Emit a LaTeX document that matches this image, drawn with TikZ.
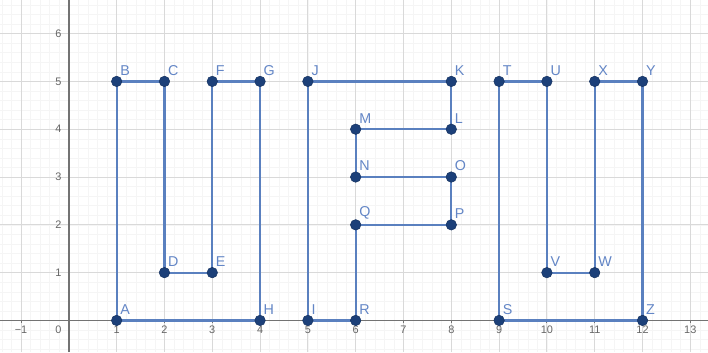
\documentclass[tikz,border=0pt]{standalone}
\usepackage{fontspec}
\setmainfont{Liberation Sans}
\usetikzlibrary{calc}
\begin{document}
\begin{tikzpicture}[x=1cm,y=1cm,
  minorgrid/.style={draw=black!4,line width=0.3pt},
  majorgrid/.style={draw=black!15,line width=0.5pt},
  axisline/.style={draw=black!55,line width=0.9pt},
  ticklbl/.style={font=\fontsize{6.5}{7}\selectfont,text=black!60,inner sep=1pt},
  poly/.style={draw=polyblue,line width=1.3pt,line join=round},
  pt/.style={circle,fill=dotblue,draw=dotblue!80!black,line width=0.3pt,inner sep=0pt,minimum size=2.2mm},
  ptlbl/.style={font=\fontsize{8.5}{9}\selectfont,text=lblblue,inner sep=0pt,anchor=south west}
]
\definecolor{polyblue}{HTML}{5A80BF}
\definecolor{dotblue}{HTML}{1C4079}
\definecolor{lblblue}{HTML}{6386C6}
\useasboundingbox (-1.44,-0.66) rectangle (13.37,6.703);
\fill[white] (-1.44,-0.66) rectangle (13.37,6.703);
% grid
\draw[minorgrid,step=0.2] (-1.44,-0.66) grid (13.37,6.703);
\draw[majorgrid,step=1] (-1.44,-0.66) grid (13.37,6.703);
% axes
\draw[axisline] (-1.44,0) -- (13.37,0);
\draw[axisline] (0,-0.66) -- (0,6.703);
% axis labels
\node[ticklbl] (xlm1) at (-1,-0.19) {−1};
\foreach \i in {1,2,...,13} \node[ticklbl] (xl\i) at (\i,-0.19) {\i};
\node[ticklbl] (xl0) at (-0.22,-0.19) {0};
\foreach \j in {1,...,6} \node[ticklbl] (yl\j) at (-0.22,\j) {\j};
\foreach \i in {-1,1,2,...,13} \draw[axisline,line width=0.5pt] (\i,0) -- (\i,-0.06);
% points
\coordinate (A) at (1,0); \coordinate (B) at (1,5); \coordinate (C) at (2,5);
\coordinate (D) at (2,1); \coordinate (E) at (3,1); \coordinate (F) at (3,5);
\coordinate (G) at (4,5); \coordinate (H) at (4,0);
\coordinate (I) at (5,0); \coordinate (J) at (5,5); \coordinate (K) at (8,5);
\coordinate (L) at (8,4); \coordinate (M) at (6,4); \coordinate (N) at (6,3);
\coordinate (O) at (8,3); \coordinate (P) at (8,2); \coordinate (Q) at (6,2);
\coordinate (R) at (6,0);
\coordinate (S) at (9,0); \coordinate (T) at (9,5); \coordinate (U) at (10,5);
\coordinate (V) at (10,1); \coordinate (W) at (11,1); \coordinate (X) at (11,5);
\coordinate (Y) at (12,5); \coordinate (Z) at (12,0);
% polylines
\draw[poly] (A)--(B)--(C)--(D)--(E)--(F)--(G)--(H)--cycle;
\draw[poly] (I)--(J)--(K)--(L)--(M)--(N)--(O)--(P)--(Q)--(R)--cycle;
\draw[poly] (S)--(T)--(U)--(V)--(W)--(X)--(Y)--(Z)--cycle;
% dots and labels
\foreach \p in {A,B,C,D,E,F,G,H,I,J,K,L,M,N,O,P,Q,R,S,T,U,V,W,X,Y,Z}{
  \node[pt] (d\p) at (\p) {};
  \node[ptlbl] (l\p) at ($(\p)+(0.07,0.12)$) {\p};
}
\end{tikzpicture}
\end{document}
